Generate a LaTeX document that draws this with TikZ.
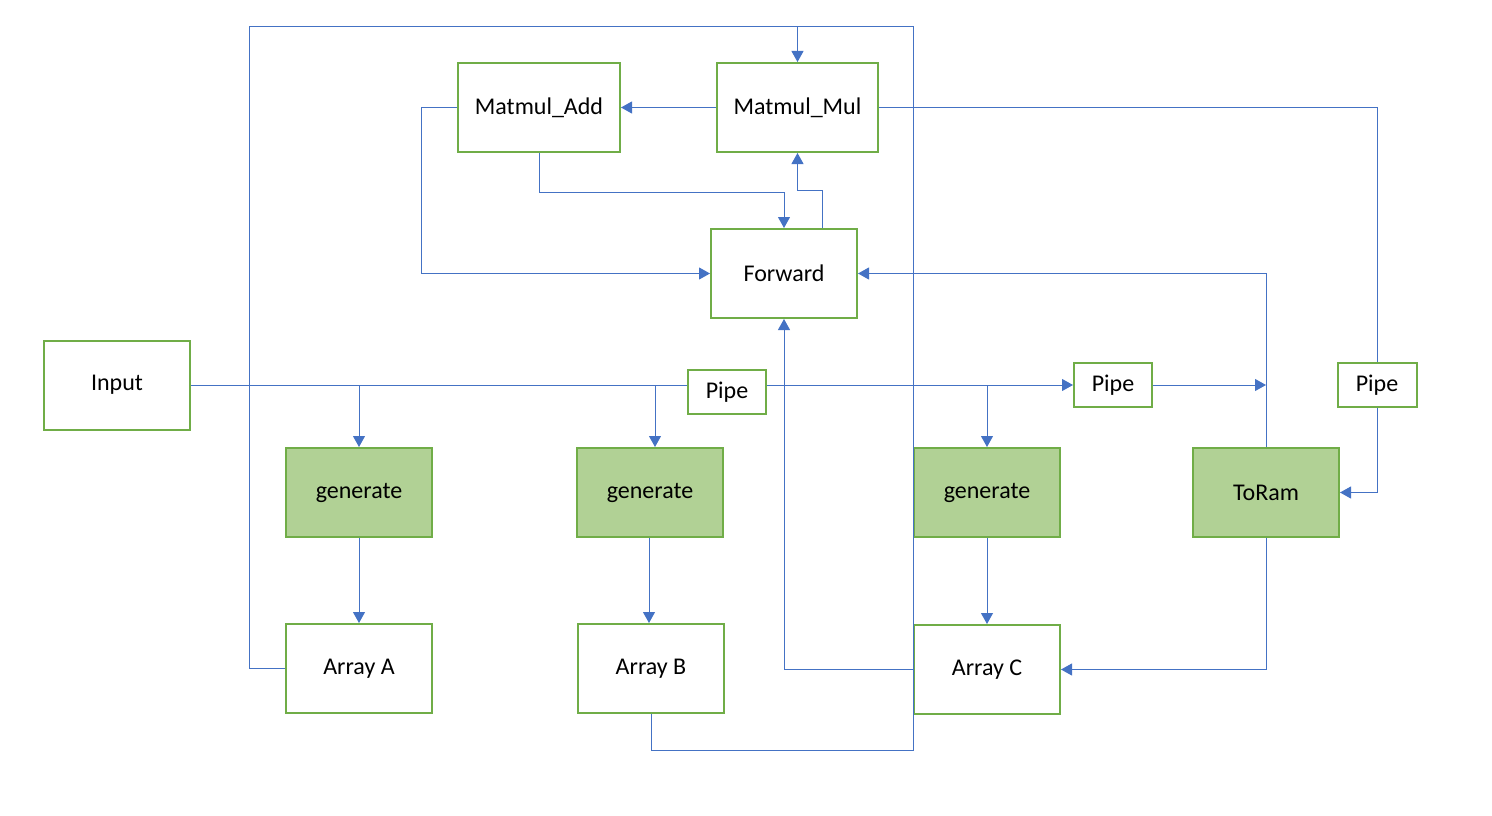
\documentclass[tikz,border=0pt]{standalone}
\usepackage{fontspec}
\setmainfont{Carlito}
\usetikzlibrary{arrows.meta}
\definecolor{boxgreen}{HTML}{70AD47}
\definecolor{fillgreen}{HTML}{B1D195}
\definecolor{lineblue}{HTML}{4472C4}
\tikzset{
  box/.style={draw=boxgreen, line width=2pt, fill=white, minimum width=146pt, minimum height=89pt, inner sep=0pt, font=\fontsize{24}{29}\selectfont},
  gbox/.style={box, fill=fillgreen},
  pipebox/.style={box, minimum width=78pt, minimum height=44pt},
  conn/.style={draw=lineblue, line width=1pt},
  arr/.style={conn, -{Triangle[length=11pt,width=12pt]}}
}
\begin{document}
\begin{tikzpicture}[x=1pt,y=-1pt]
\useasboundingbox (0,0) rectangle (1492,816);
\coordinate (topy) at (0,27);
% nodes
\node[box] (In) at (117,385) {Input};
\node[box, minimum width=162pt] (MA) at (539,107.5) {Matmul\_Add};
\node[box, minimum width=161pt] (MM) at (797.5,107.5) {Matmul\_Mul};
\node[box] (Fw) at (784,273.5) {Forward};
\node[pipebox] (P1) at (727,392) {Pipe};
\node[pipebox] (P2) at (1113,385) {Pipe};
\node[pipebox, minimum width=79pt] (P3) at (1377,385) {Pipe};
\node[gbox] (G1) at (359,492.5) {generate};
\node[gbox] (G2) at (650,492.5) {generate};
\node[gbox] (G3) at (987,492.5) {generate};
\node[gbox] (TR) at (1266,492.5) {ToRam};
\node[box] (AA) at (359,668.5) {Array A};
\node[box] (AB) at (651,668.5) {Array B};
\node[box] (AC) at (987,669.5) {Array C};
\coordinate (g2in) at ([xshift=5pt]G2.north);
\coordinate (g2out) at ([xshift=-1pt]G2.south);
% input line
\draw[conn] (In.east) -- (In.east -| P1.west);
\draw[arr] (In.east -| P1.east) -- (P2.west);
\draw[arr] (In.east -| G1.north) -- (G1.north);
\draw[arr] (In.east -| g2in) -- (g2in);
\draw[arr] (In.east -| G3.north) -- (G3.north);
% generate to arrays
\draw[arr] (G1.south) -- (AA.north);
\draw[arr] (g2out) -- (g2out |- AB.north);
\draw[arr] (G3.south) -- (AC.north);
% Pipe2 to ToRam line, ToRam to Forward
\draw[arr] (P2.east) -- (P2.east -| TR.north);
\draw[arr] (TR.north) -- (TR.north |- Fw.east) -- (Fw.east);
% Matmul_Mul to Pipe3 to ToRam
\draw[conn] (MM.east) -- (MM.east -| P3.north) -- (P3.north);
\draw[arr] (P3.south) -- (P3.south |- TR.east) -- (TR.east);
% ToRam to Array C
\draw[arr] (TR.south) -- (TR.south |- AC.east) -- (AC.east);
% Array C to Forward
\draw[arr] (AC.west) -- (AC.west -| Fw.south) -- (Fw.south);
% Array A to Matmul_Mul
\draw[arr] (AA.west) -- ++(-36,0) |- (MM.north |- topy) -- (MM.north);
% Array B to Matmul_Mul
\draw[conn] (AB.south) -- ++(0,36) -| (AC.west |- topy) -- (MM.north |- topy);
% Matmul_Mul to Matmul_Add
\draw[arr] (MM.west) -- (MA.east);
% Matmul_Add to Forward
\draw[arr] (MA.west) -- ++(-36,0) |- (Fw.west);
\draw[arr] (MA.south) -- ++(0,39) -| (Fw.north);
% Forward to Matmul_Mul
\draw[arr] ([xshift=38pt]Fw.north) -- ++(0,-38) -| (MM.south);
\end{tikzpicture}
\end{document}
